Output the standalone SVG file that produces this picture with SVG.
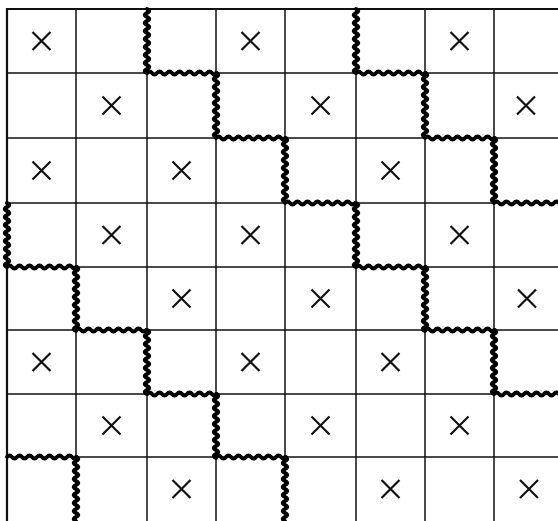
<svg xmlns="http://www.w3.org/2000/svg" xmlns:xlink="http://www.w3.org/1999/xlink" width="558" height="521" viewBox="0 0 558 521">
<style>
.grid{stroke:#111;stroke-width:1.5;fill:none}
.border{stroke:#111;stroke-width:2.2;fill:none}
.wave{stroke:#000;stroke-width:3.8;fill:none;stroke-linecap:round;stroke-linejoin:round}
.x{stroke:#111;stroke-width:2.2;fill:none;stroke-linecap:butt}
</style>
<defs>
<path id="wv" d="M0,0 q4.6,2 0,4 t0,4 t0,4 t0,4 t0,4 t0,4 t0,4 t0,4 t0,4 t0,4 t0,4 t0,4 t0,4 t0,4 t0,4 t0,4"/>
<path id="wh" d="M0,0 q2.5,-3.4 5,0 t5,0 t5,0 t5,0 t5,0 t5,0 t5,0 t5,0 t5,0 t5,0 t5,0 t5,0 t5,0 t5,0"/>
<path id="xm" d="M-9,-9 L9,9 M9,-9 L-9,9"/>
</defs>
<rect width="558" height="521" fill="#fff"/>
<g id="grid" class="grid">
<path d="M76,9V521 M147,9V521 M216,9V521 M285,9V521 M356,9V521 M425,9V521 M494,9V521"/>
<path d="M7,73H558 M7,138H558 M7,203H558 M7,267H558 M7,330H558 M7,394H558 M7,457H558"/>
</g>
<g id="border" class="border">
<path d="M7,521V9H558"/>
</g>
<g id="marks" class="x">
<use xlink:href="#xm" transform="translate(41.5,41)"/>
<use xlink:href="#xm" transform="translate(250.5,41)"/>
<use xlink:href="#xm" transform="translate(459.5,41)"/>
<use xlink:href="#xm" transform="translate(111.5,105.5)"/>
<use xlink:href="#xm" transform="translate(320.5,105.5)"/>
<use xlink:href="#xm" transform="translate(526,105.5)"/>
<use xlink:href="#xm" transform="translate(41.5,170.5)"/>
<use xlink:href="#xm" transform="translate(181.5,170.5)"/>
<use xlink:href="#xm" transform="translate(390.5,170.5)"/>
<use xlink:href="#xm" transform="translate(111.5,235)"/>
<use xlink:href="#xm" transform="translate(250.5,235)"/>
<use xlink:href="#xm" transform="translate(459.5,235)"/>
<use xlink:href="#xm" transform="translate(181.5,298.5)"/>
<use xlink:href="#xm" transform="translate(320.5,298.5)"/>
<use xlink:href="#xm" transform="translate(527,298.5)"/>
<use xlink:href="#xm" transform="translate(41.5,362)"/>
<use xlink:href="#xm" transform="translate(250.5,362)"/>
<use xlink:href="#xm" transform="translate(390.5,362)"/>
<use xlink:href="#xm" transform="translate(111.5,425.5)"/>
<use xlink:href="#xm" transform="translate(320.5,425.5)"/>
<use xlink:href="#xm" transform="translate(459.5,425.5)"/>
<use xlink:href="#xm" transform="translate(181.5,489)"/>
<use xlink:href="#xm" transform="translate(390.5,489)"/>
<use xlink:href="#xm" transform="translate(529,489)"/>
</g>
<g id="connectors" class="wave">
<g id="boundary-a">
<use xlink:href="#wv" transform="translate(147,9)"/>
<use xlink:href="#wh" transform="translate(147,73)"/>
<use xlink:href="#wv" transform="translate(216,73)"/>
<use xlink:href="#wh" transform="translate(216,138)"/>
<use xlink:href="#wv" transform="translate(285,138)"/>
<use xlink:href="#wh" transform="translate(285,203)"/>
<use xlink:href="#wv" transform="translate(356,203)"/>
<use xlink:href="#wh" transform="translate(356,267)"/>
<use xlink:href="#wv" transform="translate(425,267)"/>
<use xlink:href="#wh" transform="translate(425,330)"/>
<use xlink:href="#wv" transform="translate(494,330)"/>
<use xlink:href="#wh" transform="translate(494,394)"/>
</g>
<g id="boundary-b">
<use xlink:href="#wv" transform="translate(356,9)"/>
<use xlink:href="#wh" transform="translate(356,73)"/>
<use xlink:href="#wv" transform="translate(425,73)"/>
<use xlink:href="#wh" transform="translate(425,138)"/>
<use xlink:href="#wv" transform="translate(494,138)"/>
<use xlink:href="#wh" transform="translate(494,203)"/>
</g>
<g id="boundary-c">
<use xlink:href="#wv" transform="translate(7,203)"/>
<use xlink:href="#wh" transform="translate(7,267)"/>
<use xlink:href="#wv" transform="translate(76,267)"/>
<use xlink:href="#wh" transform="translate(76,330)"/>
<use xlink:href="#wv" transform="translate(147,330)"/>
<use xlink:href="#wh" transform="translate(147,394)"/>
<use xlink:href="#wv" transform="translate(216,394)"/>
<use xlink:href="#wh" transform="translate(216,457)"/>
<use xlink:href="#wv" transform="translate(285,457)"/>
</g>
<g id="boundary-d">
<use xlink:href="#wh" transform="translate(7,457)"/>
<use xlink:href="#wv" transform="translate(76,457)"/>
</g>
</g>
</svg>
